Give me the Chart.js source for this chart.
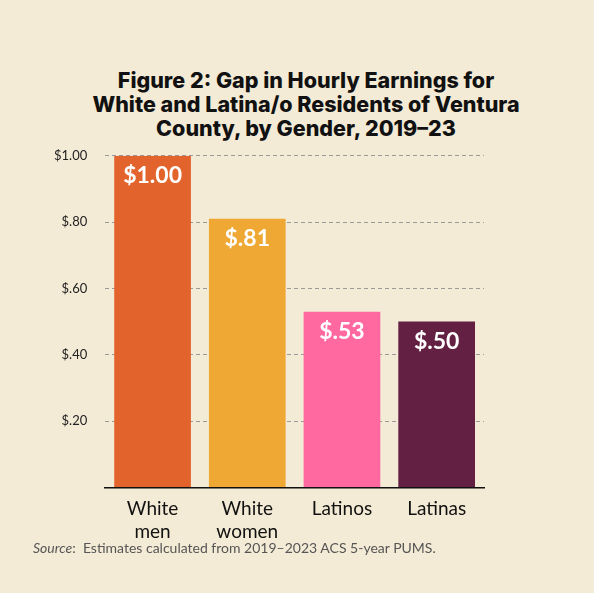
<!DOCTYPE html>
<html>
<head>
<meta charset="utf-8">
<script src="https://cdn.jsdelivr.net/npm/chart.js@4"></script>
<style>
  body { margin: 0; background: #F4EBD6; width: 594px; height: 593px; position: relative; overflow: hidden; }
  #title { position: absolute; top: 68px; left: 0; width: 612px; text-align: center; font: 800 21.5px/24px "Inter", "Liberation Sans", sans-serif; color: #111; }
  #box { position: absolute; left: 0; top: 130px; width: 594px; height: 415px; }
  #source { position: absolute; left: 33px; top: 539px; font: 14px "Lato", sans-serif; color: #555; }
</style>
</head>
<body>
<div id="title">Figure 2: Gap in Hourly Earnings for<br>White and Latina/o Residents of Ventura<br>County, by Gender, 2019–23</div>
<div id="box"><canvas id="chart"></canvas></div>
<div id="source"><i>Source</i>:&nbsp; Estimates calculated from 2019–2023 ACS 5-year PUMS.</div>
<script>
const categories = [['White', 'men'], ['White', 'women'], 'Latinos', 'Latinas'];
const earnings = [1.00, 0.81, 0.53, 0.50];
const valueLabels = ['$1.00', '$.81', '$.53', '$.50'];
const barColors = ['#E2642C', '#EEA833', '#FF69A0', '#632042'];

// TODO: nhãn giá trị trong cột
const valueLabelPlugin = {
    id: 'valueLabels',
    afterDatasetsDraw(chart) {
        const ctx = chart.ctx;
        chart.getDatasetMeta(0).data.forEach(function (bar, i) {
            ctx.save();
            ctx.fillStyle = '#fff';
            ctx.font = 'bold 23px Lato';
            ctx.textAlign = 'center';
            ctx.textBaseline = 'top';
            ctx.fillText(valueLabels[i], bar.x, bar.y + 8);
            ctx.restore();
        });
    }
};

new Chart(document.getElementById('chart').getContext('2d'), {
    type: 'bar',
    data: {
        labels: categories,
        datasets: [{
            data: earnings,
            backgroundColor: barColors,
            barPercentage: 0.81,
            categoryPercentage: 1
        }]
    },
    options: {
        responsive: true,
        maintainAspectRatio: false,
        animation: false,
        layout: { padding: { top: 10, right: 110, left: 36 } },
        plugins: { legend: { display: false }, tooltip: { enabled: false } },
        scales: {
            x: {
                grid: { display: false },
                border: { color: '#111', width: 1.5 },
                ticks: { color: '#111', font: { family: 'Lato', size: 19 }, padding: 2 }
            },
            y: {
                min: 0,
                max: 1,
                ticks: {
                    stepSize: 0.2,
                    color: '#222',
                    font: { family: 'Lato', size: 13 },
                    padding: 18,
                    callback: function (v) {
                        if (v === 0) return '';
                        return v === 1 ? '$1.00' : '$' + v.toFixed(2).slice(1);
                    }
                },
                border: { display: false, dash: [4, 3] },
                grid: { color: '#999', tickLength: 0 }
            }
        }
    },
    plugins: [valueLabelPlugin]
});
</script>
</body>
</html>
